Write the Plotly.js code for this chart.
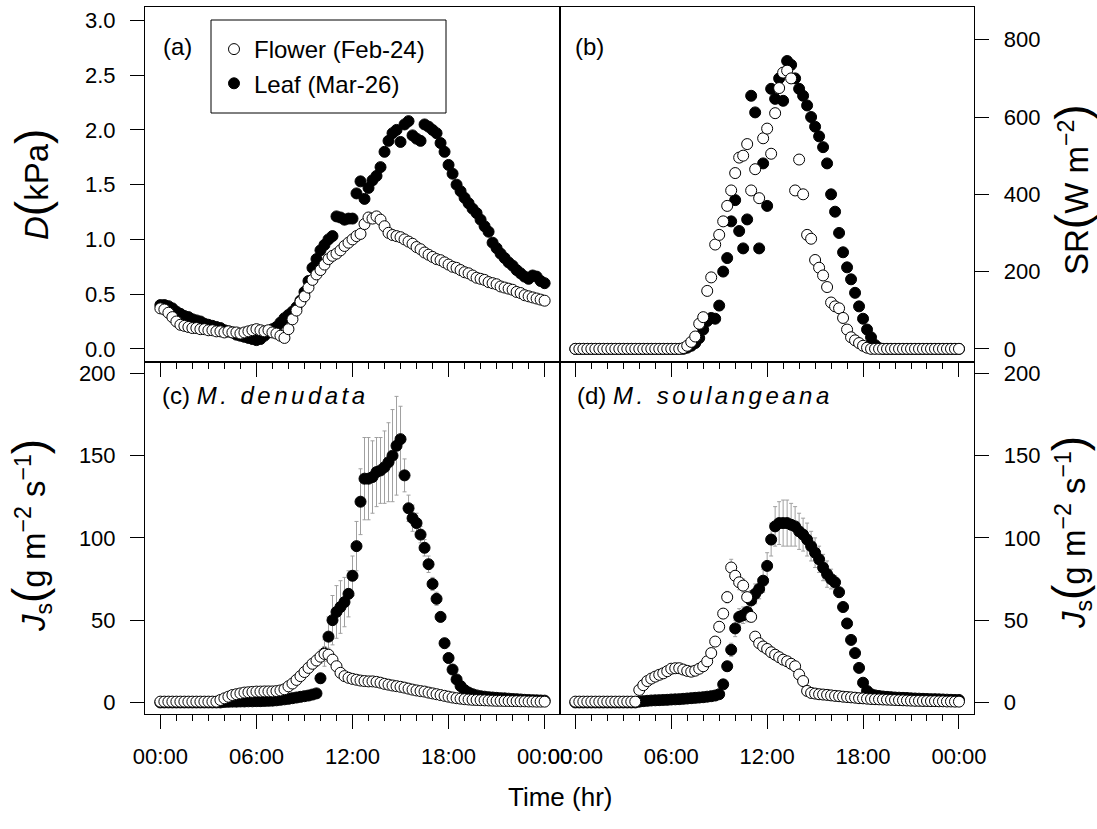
<!DOCTYPE html>
<html>
<head>
<meta charset="utf-8">
<script src="https://cdn.plot.ly/plotly-3.0.1.min.js"></script>
<style>html,body{margin:0;padding:0;background:#fff;}#chart{width:1097px;height:829px;}</style>
</head>
<body>
<div id="chart"></div>
<script>
// ---------- DATA (time in hours, 15-min samples) ----------
const hours = [0,0.25,0.5,0.75,1,1.25,1.5,1.75,2,2.25,2.5,2.75,3,3.25,3.5,3.75,4,4.25,4.5,4.75,5,5.25,5.5,5.75,6,6.25,6.5,6.75,7,7.25,7.5,7.75,8,8.25,8.5,8.75,9,9.25,9.5,9.75,10,10.25,10.5,10.75,11,11.25,11.5,11.75,12,12.25,12.5,12.75,13,13.25,13.5,13.75,14,14.25,14.5,14.75,15,15.25,15.5,15.75,16,16.25,16.5,16.75,17,17.25,17.5,17.75,18,18.25,18.5,18.75,19,19.25,19.5,19.75,20,20.25,20.5,20.75,21,21.25,21.5,21.75,22,22.25,22.5,22.75,23,23.25,23.5,23.75,24];

const seriesNames = ["Flower (Feb-24)", "Leaf (Mar-26)"];
const tickHours = [0,6,12,18,24];
const tickHourLabels = ["00:00","06:00","12:00","18:00","00:00"];
const dTicks = [0,0.5,1,1.5,2,2.5,3];
const dTickLabels = ["0.0","0.5","1.0","1.5","2.0","2.5","3.0"];
const srTicks = [0,200,400,600,800];
const jsTicks = [0,50,100,150,200];

// (a) vapour pressure deficit D (kPa)
const dFlower = [0.37,0.36,0.33,0.29, 0.25,0.22,0.21,0.20, 0.19,0.19,0.18,0.18, 0.17,0.17,0.16,0.16,
  0.15,0.16,0.15,0.15, 0.14,0.15,0.16,0.17, 0.18,0.17,0.16,0.17, 0.15,0.14,0.12,0.10,
  0.18,0.27,0.35,0.43, 0.48,0.56,0.63,0.68, 0.72,0.77,0.82,0.85, 0.87,0.90,0.94,0.97,
  1.00,1.03,1.05,1.14, 1.20,1.19,1.21,1.18, 1.12,1.06,1.04,1.03, 1.02,1.00,0.98,0.96,
  0.93,0.91,0.88,0.86, 0.84,0.82,0.81,0.79, 0.77,0.75,0.74,0.72, 0.70,0.69,0.67,0.65,
  0.64,0.63,0.61,0.60, 0.59,0.57,0.56,0.55, 0.54,0.52,0.51,0.49, 0.48,0.47,0.46,0.45, 0.44];
const dLeaf = [0.40,0.40,0.39,0.37, 0.34,0.32,0.30,0.29, 0.27,0.26,0.25,0.23, 0.22,0.21,0.20,0.19,
  0.17,0.16,0.15,0.13, 0.12,0.11,0.10,0.09, 0.08,0.09,0.12,0.15, 0.18,0.20,0.24,0.28,
  0.31,0.34,0.38,0.44, 0.52,0.62,0.74,0.82, 0.90,0.95,1.00,1.03, 1.21,1.20,1.18,1.19,
  1.19,1.42,1.53,1.37, 1.47,1.54,1.58,1.66, 1.80,1.90,1.97,2.00, 1.89,2.05,2.08,1.95,
  1.92,1.90,2.05,2.03, 2.00,1.97,1.88,1.80, 1.68,1.60,1.50,1.44, 1.38,1.33,1.28,1.24,
  1.18,1.12,1.07,0.97, 0.92,0.87,0.83,0.79, 0.76,0.72,0.69,0.66, 0.64,0.67,0.66,0.62, 0.60];

// (b) solar radiation SR (W m-2)
const srFlower = [0,0,0,0, 0,0,0,0, 0,0,0,0, 0,0,0,0, 0,0,0,0, 0,0,0,0, 0,0,0,2,
  8,18,32,65, 82,150,185,270, 295,330,370,410, 455,495,500,530, 410,465,390,545,
  570,505,610,675, 715,720,700,410, 490,400,295,285, 230,210,190,160, 120,110,105,80,
  50,30,22,15, 8,3,0,0, 0,0,0,0, 0,0,0,0, 0,0,0,0, 0,0,0,0, 0,0,0,0, 0];
const srLeaf = [0,0,0,0, 0,0,0,0, 0,0,0,0, 0,0,0,0, 0,0,0,0, 0,0,0,0, 0,0,0,0,
  3,8,15,28, 50,72,80,78, 112,200,235,330, 385,305,260,335, 655,612,260,480,
  370,673,647,700, 642,745,735,700, 673,655,630,600, 575,550,522,480, 400,355,300,250,
  211,180,145,110, 78,50,30,10, 2,0,0,0, 0,0,0,0, 0,0,0,0, 0,0,0,0, 0,0,0,0, 0];

// (c) sap flux density Js, M. denudata (g m-2 s-1) and its error
const jsDenFlower = [0.5,0.5,0.5,0.5, 0.5,0.5,0.5,0.5, 0.5,0.5,0.5,0.5, 0.5,0.5,0.5,1.5,
  2.5,3.5,4.5,5.0, 5.5,6.0,6.2,6.4, 6.6,6.6,6.7,6.7, 6.7,6.9,7.3,8.0,
  9.8,11.5,13.7,16.0, 18.5,21.0,23.5,25.5, 27.8,29.5,29.0,26.0, 22.0,18.0,16.0,15.0,
  14.3,13.8,13.3,13.0, 12.8,12.8,12.5,12.0, 11.3,10.8,10.3,9.9, 9.5,9.0,8.4,7.8,
  7.3,6.9,6.6,6.0, 5.5,5.0,4.5,4.0, 3.5,3.0,2.6,2.3, 2.0,1.8,1.6,1.5,
  1.4,1.3,1.2,1.1, 1.0,1.0,0.9,0.9, 0.8,0.8,0.7,0.7, 0.6,0.6,0.5,0.5, 0.5];
const jsDenFlowerErr = [0.3,0.3,0.3,0.3, 0.3,0.3,0.3,0.3, 0.3,0.3,0.3,0.3, 0.3,0.3,0.3,0.5,
  0.5,0.5,0.5,0.5, 0.5,0.5,0.5,0.5, 0.5,0.5,0.5,0.5, 0.5,0.5,0.6,0.8,
  1,1,1.5,2, 2,2.5,3,3.5, 4,4.5,4,3, 2,1.5,1,1,
  1,1,1,1, 1,1,1,1, 1,1,1,1, 1,1,1,1,
  0.8,0.8,0.8,0.8, 0.6,0.6,0.6,0.6, 0.5,0.5,0.5,0.5, 0.4,0.4,0.4,0.4,
  0.3,0.3,0.3,0.3, 0.3,0.3,0.3,0.3, 0.3,0.3,0.3,0.3, 0.3,0.3,0.3,0.3, 0.3];
const jsDenLeaf = [0,0,0,0, 0,0,0,0, 0,0,0,0, 0,0,0,0,
  0.3,0.4,0.5,0.5, 0.6,0.6,0.7,0.7, 0.8,0.8,0.9,1.0, 1.1,1.3,1.6,1.9,
  2.2,2.6,3.0,3.4, 3.8,4.2,4.8,5.5, 14.7,30.0,40.0,50.0, 55.0,58.0,61.0,66.0,
  77.0,95.0,122.0,136.0, 136.0,137.0,140.0,141.0, 143.0,146.0,150.0,156.0, 160.0,138.0,118.0,112.0,
  109.0,102.0,94.0,84.0, 72.0,63.0,52.0,36.0, 27.0,20.0,14.0,10.0, 7.5,6.0,5.0,4.3,
  3.8,3.5,3.2,3.0, 2.8,2.6,2.5,2.3, 2.1,2.0,1.8,1.6, 1.5,1.4,1.3,1.2, 1.1];
const jsDenLeafErr = [0.5,0.5,0.5,0.5, 0.5,0.5,0.5,0.5, 0.5,0.5,0.5,0.5, 0.5,0.5,0.5,0.5,
  0.5,0.5,0.5,0.5, 0.5,0.5,0.5,0.5, 0.5,0.5,0.5,0.5, 0.5,0.5,0.5,0.5,
  0.5,0.5,0.5,0.5, 0.8,1,1.5,2, 3,8,12,15, 16,16,15,14,
  12,15,20,25, 25,22,21,20, 22,24,28,30, 20,10,8,8,
  6,5,5,5, 4,4,3,3, 3,2,2,1, 1,1,1,1,
  1,1,1,1, 1,1,1,1, 1,1,1,1, 1,1,1,1, 1];

// (d) sap flux density Js, M. soulangeana (g m-2 s-1) and its error
const jsSouFlower = [0.5,0.5,0.5,0.5, 0.5,0.5,0.5,0.5, 0.5,0.5,0.5,0.5, 0.5,0.5,0.5,0.5,
  7.6,10.5,13.0,14.5, 15.7,16.8,17.7,19.0, 20.5,20.8,20.8,20.0, 19.2,18.7,19.3,20.5,
  22.0,25.0,30.0,37.0, 46.0,54.0,64.0,82.0, 77.0,73.0,71.0,64.0, 52.0,40.0,36.0,34.0,
  32.5,30.5,29.0,27.5, 26.0,25.0,23.5,22.0, 17.0,13.0,7.0,5.8, 5.4,5.0,4.8,4.6,
  4.3,4.0,3.8,3.5, 3.3,3.1,2.9,2.6, 2.5,2.3,2.1,2.0, 1.9,1.8,1.7,1.6,
  1.5,1.4,1.3,1.2, 1.1,1.0,1.0,0.9, 0.9,0.8,0.8,0.7, 0.7,0.6,0.6,0.5, 0.5];
const jsSouFlowerErr = [0.3,0.3,0.3,0.3, 0.3,0.3,0.3,0.3, 0.3,0.3,0.3,0.3, 0.3,0.3,0.3,0.3,
  1,1,1,1, 1,1,1,1, 1,1,1,1, 1,1,1,1,
  1,1.5,2,2.5, 3,3,3.5,5, 5,4.5,4,3, 2.5,2,2,2,
  2,2,1.5,1.5, 1.5,1.5,1.5,1.5, 1,1,0.8,0.6, 0.5,0.5,0.5,0.5,
  0.5,0.5,0.5,0.5, 0.4,0.4,0.4,0.4, 0.4,0.4,0.4,0.4, 0.3,0.3,0.3,0.3,
  0.3,0.3,0.3,0.3, 0.3,0.3,0.3,0.3, 0.3,0.3,0.3,0.3, 0.3,0.3,0.3,0.3, 0.3];
const jsSouLeaf = [0,0,0,0, 0,0,0,0, 0,0,0,0, 0,0,0,0,
  0.5,0.8,1.0,1.2, 1.3,1.4,1.5,1.6, 1.8,1.9,2.0,2.2, 2.4,2.6,2.8,3.0,
  3.2,3.5,3.8,4.2, 5.0,11.0,22.0,32.0, 45.0,52.0,53.0,55.0, 62.0,66.0,69.0,74.0,
  83.0,99.0,107.0,109.0, 109.0,109.0,108.0,107.0, 104.0,102.0,99.0,95.0, 91.0,87.0,82.0,78.0,
  75.0,73.0,67.0,58.0, 48.0,38.0,30.0,21.0, 12.0,7.0,5.0,4.3, 3.9,3.6,3.4,3.2,
  3.0,2.9,2.8,2.7, 2.5,2.4,2.3,2.2, 2.1,2.0,2.0,1.9, 1.8,1.7,1.6,1.5, 1.5];
const jsSouLeafErr = [0.5,0.5,0.5,0.5, 0.5,0.5,0.5,0.5, 0.5,0.5,0.5,0.5, 0.5,0.5,0.5,0.5,
  0.5,0.5,0.5,0.5, 0.5,0.5,0.5,0.5, 0.5,0.5,0.5,0.5, 0.5,0.5,0.5,0.5,
  0.5,0.5,0.5,0.5, 1,2,3,4, 5,5,5,6, 6,6,6,7,
  8,10,12,13, 14,14,13,12, 11,10,10,9, 9,8,8,8,
  6,4,3,3, 3,2,2,2, 2,1,1,1, 1,1,1,1,
  1,1,1,1, 1,1,1,1, 1,1,1,1, 1,1,1,1, 1];

// ---------- LAYOUT GEOMETRY (pixels) ----------
const W = 1097, H = 829;
const PX = x => x / W;
const PY = y => 1 - y / H;
const xL0 = 145, xMid = 560, xR1 = 974.3;
const yT0 = 7.3, yMid = 362, yB1 = 714.3;
const FONT = "Liberation Sans, Arial, Helvetica, sans-serif";

const openMarker = {symbol: "circle", size: 11, color: "white", line: {color: "black", width: 1}};
const fillMarker = {symbol: "circle", size: 11, color: "black", line: {color: "black", width: 1}};
const errStyle = arr => ({type: "data", array: arr, visible: true, color: "#a0a0a0", thickness: 1, width: 2});

function tr(x, y, ax, ay, isLeaf, show, err) {
  const t = {
    x: x, y: y, xaxis: ax, yaxis: ay, type: "scatter", mode: "markers",
    name: isLeaf ? seriesNames[1] : seriesNames[0],
    marker: isLeaf ? fillMarker : openMarker,
    showlegend: show, legendrank: isLeaf ? 2 : 1, cliponaxis: false, hoverinfo: "x+y"
  };
  if (err) t.error_y = errStyle(err);
  return t;
}

const data = [
  tr(hours, dLeaf, "x", "y", true, true),
  tr(hours, dFlower, "x", "y", false, true),
  tr(hours, srLeaf, "x2", "y2", true, false),
  tr(hours, srFlower, "x2", "y2", false, false),
  tr(hours, jsDenLeaf, "x3", "y3", true, false, jsDenLeafErr),
  tr(hours, jsDenFlower, "x3", "y3", false, false, jsDenFlowerErr),
  tr(hours, jsSouLeaf, "x4", "y4", true, false, jsSouLeafErr),
  tr(hours, jsSouFlower, "x4", "y4", false, false, jsSouFlowerErr)
];

const tickFont = {family: FONT, size: 22, color: "black"};
function xAxis(dom, anchor, labels) {
  return {
    domain: dom, anchor: anchor, range: [-0.96, 24.96],
    tickmode: "array", tickvals: tickHours, ticktext: tickHourLabels,
    showticklabels: labels, ticks: "outside", ticklen: 14, tickwidth: 1, tickcolor: "black",
    ticklabelstandoff: 8,
    minor: {tickmode: "linear", tick0: 0, dtick: 1, ticks: "outside", ticklen: 6, tickwidth: 1, tickcolor: "black", showgrid: false},
    showline: true, mirror: true, linecolor: "black", linewidth: 1,
    showgrid: false, zeroline: false, tickfont: tickFont, fixedrange: true
  };
}
function yAxis(dom, anchor, side, range, vals, text) {
  const a = {
    domain: dom, anchor: anchor, side: side, range: range,
    tickmode: "array", tickvals: vals,
    ticks: "outside", ticklen: 14, tickwidth: 1, tickcolor: "black",
    ticklabelstandoff: 10,
    showline: true, mirror: true, linecolor: "black", linewidth: 1,
    showgrid: false, zeroline: false, tickfont: tickFont, fixedrange: true
  };
  if (text) a.ticktext = text;
  return a;
}

const domLeft = [PX(xL0), PX(xMid)], domRight = [PX(xMid), PX(xR1)];
const domTop = [PY(yMid), PY(yT0)], domBottom = [PY(yB1), PY(yMid)];

function ann(text, x, y, opts) {
  return Object.assign({
    text: text, x: PX(x), y: PY(y), xref: "paper", yref: "paper",
    showarrow: false, font: {family: FONT, size: 24, color: "black"}
  }, opts || {});
}
const big = s => '<span style="font-size:46px">' + s + '</span>';
const titleFont = {family: FONT, size: 33, color: "black"};

const layout = {
  width: W, height: H,
  margin: {l: 0, r: 0, t: 0, b: 0, pad: 0},
  paper_bgcolor: "white", plot_bgcolor: "white",
  font: {family: FONT, color: "black"},
  xaxis: xAxis(domLeft, "y", false),
  yaxis: yAxis(domTop, "x", "left", [-0.12, 3.12], dTicks, dTickLabels),
  xaxis2: xAxis(domRight, "y2", false),
  yaxis2: yAxis(domTop, "x2", "right", [-34, 884], srTicks),
  xaxis3: xAxis(domLeft, "y3", true),
  yaxis3: yAxis(domBottom, "x3", "left", [-7.2, 206.9], jsTicks),
  xaxis4: xAxis(domRight, "y4", true),
  yaxis4: yAxis(domBottom, "x4", "right", [-7.2, 206.9], jsTicks),
  showlegend: true,
  legend: {
    x: PX(214), y: PY(27), xanchor: "left", yanchor: "top",
    bgcolor: "rgba(255,255,255,0)", borderwidth: 0,
    font: {family: FONT, size: 24, color: "black"}, traceorder: "normal",
    itemclick: false, itemdoubleclick: false
  },
  shapes: [
    {type: "rect", xref: "paper", yref: "paper", x0: PX(211), x1: PX(446), y0: PY(113), y1: PY(20),
     line: {color: "black", width: 1}, fillcolor: "rgba(0,0,0,0)", layer: "above"}
  ],
  annotations: [
    ann("(a)", 161, 46, {xanchor: "left", yanchor: "middle"}),
    ann("(b)", 573, 47, {xanchor: "left", yanchor: "middle"}),
    ann('(c) <i><span style="letter-spacing:3.5px">M. denudata</span></i>', 160, 395, {xanchor: "left", yanchor: "middle"}),
    ann('(d) <i><span style="letter-spacing:3.5px">M. soulangeana</span></i>', 575, 395, {xanchor: "left", yanchor: "middle"}),
    ann("<i>D</i>" + big("(") + "kPa" + big(")"), 32, 185, {textangle: -90, xanchor: "center", yanchor: "middle", font: titleFont}),
    ann("<i>J</i><sub>s</sub>" + big("(") + "g m<sup>\u22122</sup> s<sup>\u22121</sup>" + big(")"), 30, 536, {textangle: -90, xanchor: "center", yanchor: "middle", font: titleFont}),
    ann("SR" + big("(") + "W m<sup>\u22122</sup>" + big(")"), 1072, 190, {textangle: -90, xanchor: "center", yanchor: "middle", font: titleFont}),
    ann("<i>J</i><sub>s</sub>" + big("(") + "g m<sup>\u22122</sup> s<sup>\u22121</sup>" + big(")"), 1070, 533, {textangle: -90, xanchor: "center", yanchor: "middle", font: titleFont}),
    ann("Time (hr)", 560, 797, {xanchor: "center", yanchor: "middle", font: {family: FONT, size: 26, color: "black"}})
  ]
};

Plotly.newPlot("chart", data, layout, {displayModeBar: false, staticPlot: true});
</script>
</body>
</html>
